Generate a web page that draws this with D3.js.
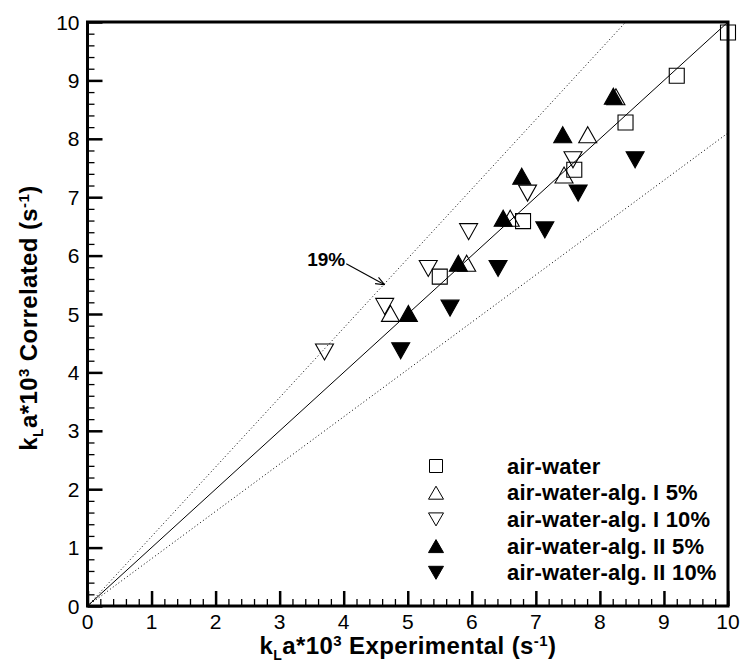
<!DOCTYPE html>
<html>
<head>
<meta charset="utf-8">
<script src="https://cdn.jsdelivr.net/npm/d3@7"></script>
<style>
  body { margin: 0; background: #fff; }
  svg { font-family: "Liberation Sans", Arial, Helvetica, sans-serif; }
</style>
</head>
<body>
<svg id="chart"></svg>
<script>
"use strict";

const width = 741;
const height = 662;

// data: [experimental, correlated]
const airWater = [[5.5, 5.64], [6.8, 6.59], [7.6, 7.47], [8.4, 8.28], [9.2, 9.08], [10, 9.82]];
const algI5 = [[4.73, 5.01], [5.92, 5.87], [6.6, 6.64], [7.44, 7.38], [7.81, 8.07], [8.25, 8.72]];
const algI10 = [[3.7, 4.35], [4.64, 5.13], [5.32, 5.78], [5.95, 6.41], [6.87, 7.07], [7.58, 7.64]];
const algII5 = [[5.01, 5.01], [5.79, 5.87], [6.49, 6.64], [6.78, 7.36], [7.42, 8.07], [8.21, 8.73]];
const algII10 = [[4.89, 4.37], [5.66, 5.10], [6.41, 5.78], [7.14, 6.44], [7.66, 7.07], [8.55, 7.64]];

const seriesNames = ["air-water", "air-water-alg. I 5%", "air-water-alg. I 10%",
    "air-water-alg. II 5%", "air-water-alg. II 10%"];
const seriesShapes = ["square", "up", "down", "up", "down"];
const seriesFilled = [false, false, false, true, true];
const seriesData = [airWater, algI5, algI10, algII5, algII10];

const xTicks = [0, 1, 2, 3, 4, 5, 6, 7, 8, 9, 10];
const yTicks = [0, 1, 2, 3, 4, 5, 6, 7, 8, 9, 10];
const deviation = 0.19;

const x = d3.scaleLinear().domain([0, 10]).range([87.5, 728]);
const y = d3.scaleLinear().domain([0, 10]).range([606, 22]);

const svg = d3.select("#chart")
    .attr("width", width)
    .attr("height", height);

// marker path centred on (0,0)
function marker(shape, w, h) {
    if (shape === "square") {
        return `M${-w / 2},${-h / 2}H${w / 2}V${h / 2}H${-w / 2}Z`;
    }
    if (shape === "up") {
        return `M0,${-h / 2}L${w / 2},${h / 2}L${-w / 2},${h / 2}Z`;
    }
    return `M0,${h / 2}L${w / 2},${-h / 2}L${-w / 2},${-h / 2}Z`;
}

// reference lines
const lines = svg.append("g");
lines.append("line")
    .attr("x1", x(0)).attr("y1", y(0))
    .attr("x2", x(10)).attr("y2", y(10))
    .attr("stroke", "#000").attr("stroke-width", 1);

lines.append("line")
    .attr("x1", x(0)).attr("y1", y(0))
    .attr("x2", x(10 / (1 + deviation))).attr("y2", y(10))
    .attr("stroke", "#000").attr("stroke-width", 1)
    .attr("stroke-dasharray", "1,2.5");

lines.append("line")
    .attr("x1", x(0)).attr("y1", y(0))
    .attr("x2", x(10)).attr("y2", y(10 * (1 - deviation)))
    .attr("stroke", "#000").attr("stroke-width", 1)
    .attr("stroke-dasharray", "1,2.5");

// points
seriesData.forEach((data, i) => {
    const shape = seriesShapes[i];
    const w = shape === "square" ? 15 : 18;
    const h = shape === "square" ? 15 : 16;
    svg.append("g")
        .selectAll("path")
        .data(data)
        .enter()
        .append("path")
        .attr("d", marker(shape, w, h))
        .attr("transform", d => `translate(${x(d[0])},${y(d[1])})`)
        .attr("fill", seriesFilled[i] ? "#000" : "none")
        .attr("stroke", "#000")
        .attr("stroke-width", 1.1);
});

// annotation
svg.append("defs").append("marker")
    .attr("id", "arrow")
    .attr("viewBox", "0 0 10 10")
    .attr("refX", 10).attr("refY", 5)
    .attr("markerWidth", 9).attr("markerHeight", 9)
    .attr("markerUnits", "userSpaceOnUse")
    .attr("orient", "auto")
    .append("path")
    .attr("d", "M0,1L10,5L0,9")
    .attr("fill", "none")
    .attr("stroke", "#000")
    .attr("stroke-width", 1.2);

svg.append("line")
    .attr("x1", x(4.04)).attr("y1", y(5.86))
    .attr("x2", x(4.64)).attr("y2", y(5.5))
    .attr("stroke", "#000").attr("stroke-width", 1.1)
    .attr("marker-end", "url(#arrow)");

svg.append("text")
    .attr("x", x(3.43)).attr("y", y(5.82))
    .attr("font-size", 19)
    .attr("font-weight", "bold")
    .text("19%");

// axes
const axisX = svg.append("g")
    .attr("transform", `translate(0,${y(0)})`)
    .call(d3.axisTop(x).tickValues(d3.range(0, 10.01, 0.2)).tickSize(0).tickFormat(""));
axisX.select(".domain").remove();
axisX.selectAll(".tick line")
    .attr("y2", (d) => Math.abs(d - Math.round(d)) < 1e-6 ? -15 : -7)
    .attr("stroke-width", (d) => Math.abs(d - Math.round(d)) < 1e-6 ? 2.5 : 1.3)
    .attr("stroke", "#000");

const axisY = svg.append("g")
    .attr("transform", `translate(${x(0)},0)`)
    .call(d3.axisRight(y).tickValues(d3.range(0, 10.01, 0.2)).tickSize(0).tickFormat(""));
axisY.select(".domain").remove();
axisY.selectAll(".tick line")
    .attr("x2", (d) => Math.abs(d - Math.round(d)) < 1e-6 ? 15 : 7)
    .attr("stroke-width", (d) => Math.abs(d - Math.round(d)) < 1e-6 ? 2.5 : 1.3)
    .attr("stroke", "#000");

// tick labels
svg.append("g")
    .selectAll("text")
    .data(xTicks)
    .enter()
    .append("text")
    .attr("x", d => x(d))
    .attr("y", y(0) + 23)
    .attr("text-anchor", "middle")
    .attr("font-size", 21)
    .text(d => d);

svg.append("g")
    .selectAll("text")
    .data(yTicks)
    .enter()
    .append("text")
    .attr("x", x(0) - 8)
    .attr("y", d => y(d) + 7.5)
    .attr("text-anchor", "end")
    .attr("font-size", 21)
    .text(d => d);

// frame
svg.append("rect")
    .attr("x", x(0)).attr("y", y(10))
    .attr("width", x(10) - x(0)).attr("height", y(0) - y(10))
    .attr("fill", "none")
    .attr("stroke", "#000")
    .attr("stroke-width", 3);

// axis titles
function axisTitle(sel, what) {
    sel.append("tspan").text("k");
    sel.append("tspan").attr("font-size", 14).attr("dy", 6).text("L");
    sel.append("tspan").attr("dy", -6).text("a*10");
    sel.append("tspan").attr("font-size", 15).attr("dy", -8).text("3");
    sel.append("tspan").attr("dy", 8).text(" " + what + " (s");
    sel.append("tspan").attr("font-size", 15).attr("dy", -8).text("-1");
    sel.append("tspan").attr("dy", 8).text(")");
}

const xTitle = svg.append("text")
    .attr("x", 408)
    .attr("y", 654)
    .attr("text-anchor", "middle")
    .attr("font-size", 24)
    .attr("letter-spacing", 0.4)
    .attr("font-weight", "bold");
axisTitle(xTitle, "Experimental");

const yTitle = svg.append("text")
    .attr("transform", "translate(37,318) rotate(-90)")
    .attr("text-anchor", "middle")
    .attr("font-size", 24)
    .attr("letter-spacing", 0.4)
    .attr("font-weight", "bold");
axisTitle(yTitle, "Correlated");

// legend
const legend = svg.append("g");
seriesNames.forEach((name, i) => {
    const ly = 466 + i * 26.7;
    const shape = seriesShapes[i];
    legend.append("path")
        .attr("d", marker(shape, shape === "square" ? 13 : 15, 13))
        .attr("transform", `translate(436,${ly})`)
        .attr("fill", seriesFilled[i] ? "#000" : "none")
        .attr("stroke", "#000")
        .attr("stroke-width", 1);
    legend.append("text")
        .attr("x", 507)
        .attr("y", ly + 7.5)
        .attr("font-size", 22)
        .attr("letter-spacing", 0.2)
        .attr("font-weight", "bold")
        .text(name);
});
</script>
</body>
</html>
